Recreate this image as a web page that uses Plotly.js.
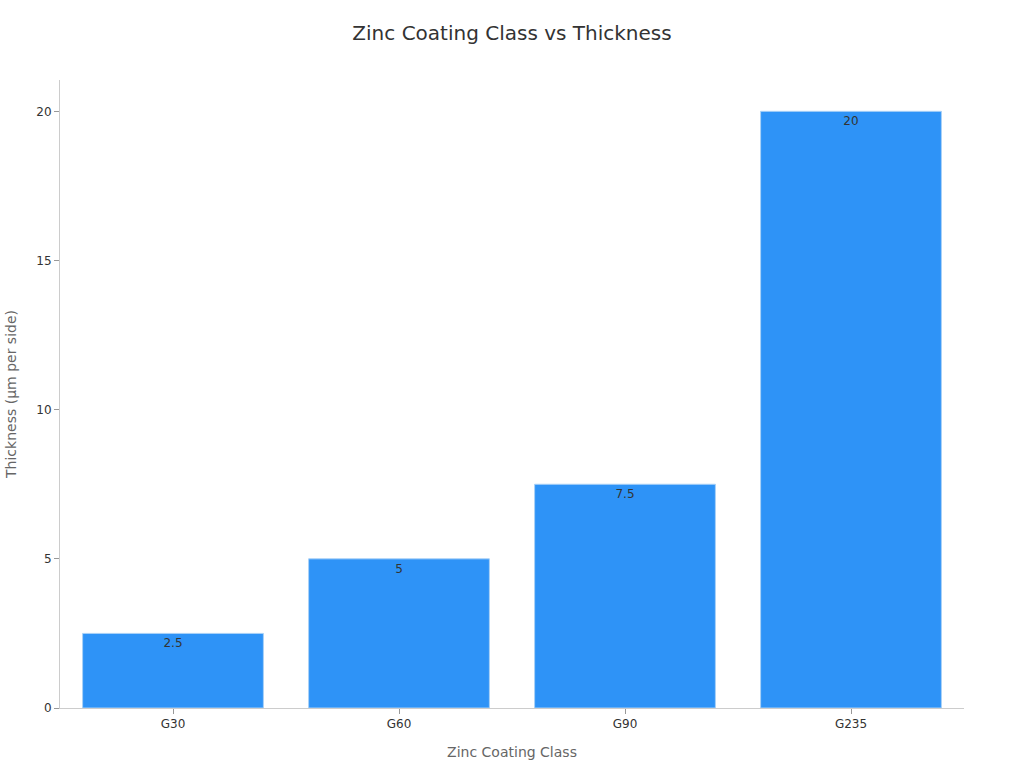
<!DOCTYPE html>
<html>
<head>
<meta charset="utf-8">
<script src="https://cdn.plot.ly/plotly-3.0.1.min.js"></script>
<style>html,body{margin:0;padding:0;background:#fff}#grafico{width:1024px;height:768px}</style>
</head>
<body>
<div id="grafico"></div>
<script>
// classes de revestimento e espessura (µm por lado)
const classes = ['G30', 'G60', 'G90', 'G235'];
const espessura = [2.5, 5, 7.5, 20];

const trace = {
	x: classes,
	y: espessura,
	type: 'bar',
	text: espessura.map(String),
	textposition: 'inside',
	insidetextanchor: 'end',
	textfont: {family: 'DejaVu Sans', size: 12, color: '#333'},
	marker: {color: '#2E93F7', line: {color: '#A9D1F7', width: 1}},
	width: 0.8,
	hoverinfo: 'x+y'
};

const layout = {
	width: 1024,
	height: 768,
	margin: {l: 60, r: 60, t: 80, b: 60},
	paper_bgcolor: '#fff',
	plot_bgcolor: '#fff',
	font: {family: 'DejaVu Sans', color: '#333'},
	title: {text: 'Zinc Coating Class vs Thickness', font: {size: 20, color: '#333'}, x: 0.5, y: 0.957, yanchor: 'middle'},
	showlegend: false,
	xaxis: {
		title: {text: 'Zinc Coating Class', font: {size: 14, color: '#666'}, standoff: 16},
		showline: true, linecolor: '#ccc', ticks: 'outside', tickcolor: '#999', ticklen: 5,
		tickfont: {size: 12, color: '#333'}, showgrid: false
	},
	yaxis: {
		title: {text: 'Thickness (µm per side)', font: {size: 14, color: '#666'}, standoff: 16},
		range: [0, 21.05], tickvals: [0, 5, 10, 15, 20],
		showline: true, linecolor: '#ccc', ticks: 'outside', tickcolor: '#999', ticklen: 5,
		tickfont: {size: 12, color: '#333'}, showgrid: false, zeroline: false
	}
};

Plotly.newPlot('grafico', [trace], layout, {displayModeBar: false});
</script>
</body>
</html>
